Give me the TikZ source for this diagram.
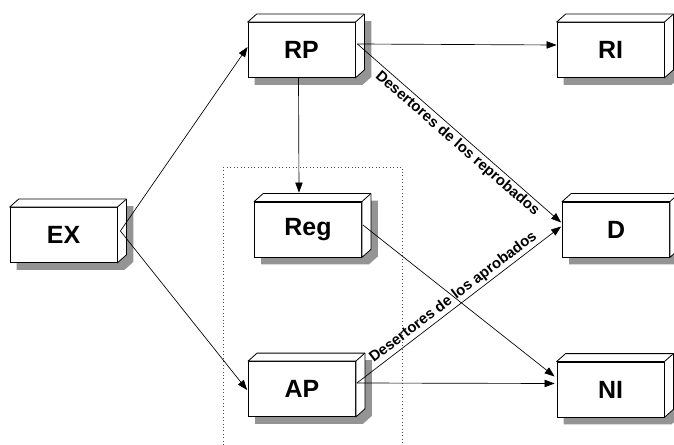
\documentclass[tikz,border=0pt]{standalone}
\usepackage{fontspec}
\setmainfont{Liberation Sans}
\usetikzlibrary{arrows.meta}
\pgfdeclarelayer{background}
\pgfsetlayers{background,main}

\tikzset{
	caja/.style={draw, fill=white, line width=0.6pt, minimum width=80.25pt, minimum height=41.25pt, inner sep=0pt, font=\fontsize{18.7}{20}\selectfont\bfseries},
	cara/.style={draw, fill=white, line width=0.6pt, line join=round},
	sombra/.style={fill=black!42},
	flecha/.style={line width=0.5pt, -{Triangle[length=7.5pt,width=5.5pt]}},
	etiqueta/.style={font=\fontsize{11.2}{12}\selectfont\bfseries, inner sep=1.5pt},
	marco/.style={dotted, line width=0.6pt, black!70}
}

\begin{document}
\begin{tikzpicture}[x=0.75pt,y=0.75pt,yscale=-1,xscale=1]
	\clip (0,0) rectangle (674,445);
	
	%Dotted frame
	\draw[marco] (223,167) rectangle (402,460);
	
	% Boxes
	\node[caja] (EX) at (63.5,235) {EX};
	\node[caja] (RP) at (301.5,50) {RP};
	\node[caja] (RI) at (610.5,50) {RI};
	\node[caja] (Reg) at (308,229.5) {Reg};
	\node[caja] (D) at (616,229.5) {D};
	\node[caja] (AP) at (302,389) {AP};
	\node[caja] (NI) at (610.5,389.5) {NI};
	
	% 3D faces and shadows
	\foreach \n in {EX,RP,RI,Reg,D,AP,NI}{
		\begin{pgfonlayer}{background}
			\fill[sombra] ([shift={(7,7)}]\n.south west) -- ([shift={(7,7)}]\n.south east) -- ([shift={(16,-1)}]\n.south east) -- ([shift={(16,-1)}]\n.north east) -- ([shift={(16,-1)}]\n.north west) -- ([shift={(7,7)}]\n.north west) -- cycle;
		\end{pgfonlayer}
		\draw[cara] (\n.north west) -- ([shift={(9,-8)}]\n.north west) -- ([shift={(9,-8)}]\n.north east) -- ([shift={(9,-8)}]\n.south east) -- (\n.south east) -- (\n.north east) -- cycle;
		\draw[cara] (\n.north east) -- ([shift={(9,-8)}]\n.north east);
	}
	
	% Arrows
	\draw[flecha] ([shift={(3,-4)}]EX.east) -- ([shift={(0,-3)}]RP.west);
	\draw[flecha] ([shift={(3,-4)}]EX.east) -- ([shift={(-1,1)}]AP.west);
	\draw[flecha] ([shift={(2,-6)}]RP.east) -- ([shift={(0,-5)}]RI.west);
	\draw[flecha] ([shift={(-3,0)}]RP.south) -- ([shift={(-9,-9)}]Reg.north);
	\draw[flecha] ([shift={(2,-6)}]RP.east) -- node[etiqueta, rotate=-41, below, pos=0.52] {Desertores de los reprobados} ([shift={(-1,-7)}]D.west);
	\draw[flecha] ([shift={(1,-6)}]AP.east) -- node[etiqueta, rotate=37.3, above] {Desertores de los aprobados} ([shift={(-1,-3)}]D.west);
	\draw[flecha] ([shift={(1,-4.5)}]Reg.east) -- ([shift={(-2,-13)}]NI.west);
	\draw[flecha] ([shift={(1,-6)}]AP.east) -- ([shift={(-2,-6)}]NI.west);
	
\end{tikzpicture}
\end{document}
